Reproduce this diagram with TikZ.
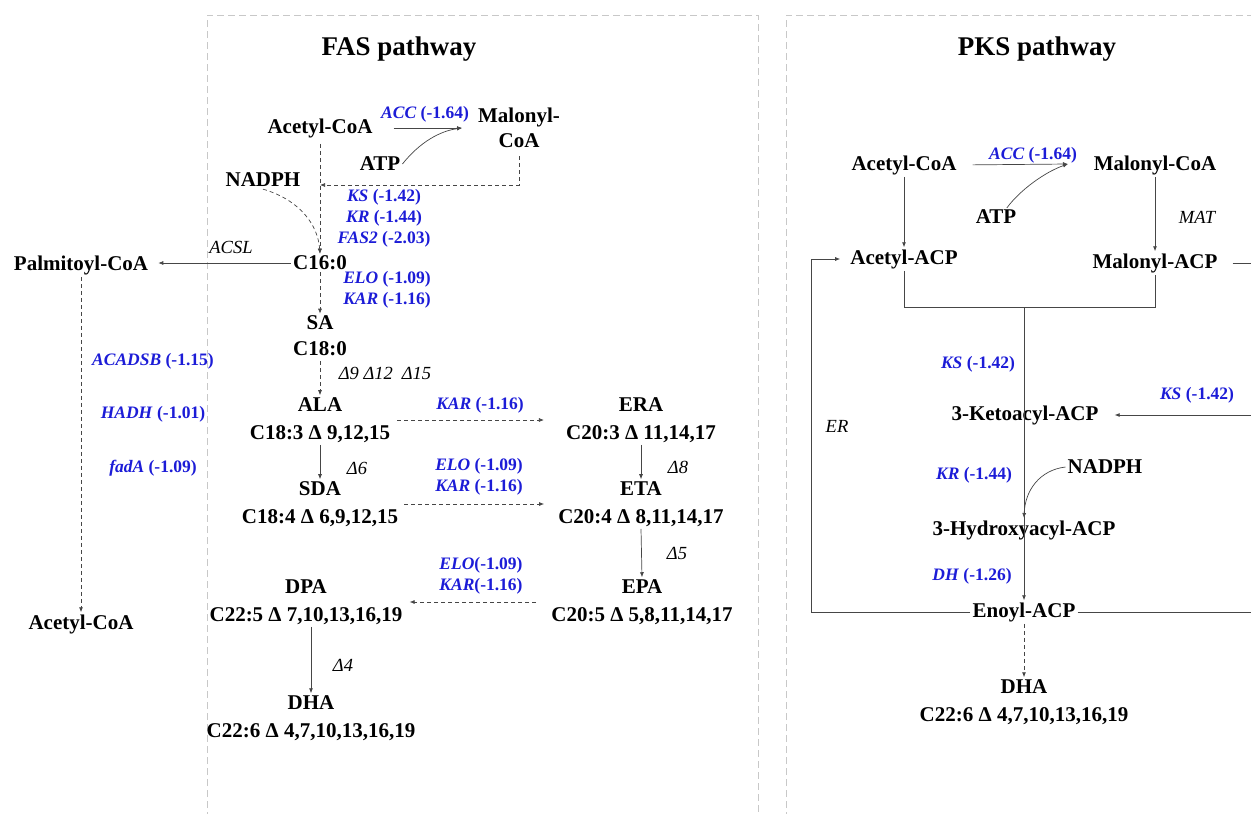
\documentclass[tikz,border=0pt]{standalone}
\usepackage{fontspec}
\setmainfont{Liberation Serif}
\usetikzlibrary{arrows.meta}
\definecolor{geneblue}{RGB}{28,28,215}
\definecolor{boxgrey}{RGB}{200,200,200}
\definecolor{linegrey}{RGB}{70,70,70}
\newcommand{\gene}[2]{\textit{#1} (#2)}
\begin{document}
\begin{tikzpicture}
    [
        x=1pt, y=-1pt,
        cpd/.style={font=\bfseries\fontsize{21}{28}\selectfont, align=center, inner sep=2pt},
        ttl/.style={font=\bfseries\fontsize{27}{30}\selectfont},
        enz/.style={font=\bfseries\fontsize{17.5}{21}\selectfont, text=geneblue, align=center, inner sep=1pt},
        note/.style={font=\itshape\fontsize{18.5}{21}\selectfont, inner sep=1pt},
        flow/.style={draw=linegrey, line width=0.7pt, -{Latex[length=5pt,width=4pt]}},
        dflow/.style={flow, dash pattern=on 4pt off 3pt},
        link/.style={draw=linegrey, line width=0.7pt},
        panel/.style={draw=boxgrey, line width=1pt, dash pattern=on 7pt off 4pt},
    ]
    \useasboundingbox (0,0) rectangle (1251,814);
    \clip (0,0) rectangle (1251,814);

    % panels
    \draw[panel] (207,830) -- (207,15) -- (758,15) -- (758,830);
    \draw[panel] (786,830) -- (786,15) -- (1260,15);
    \node[ttl] (fastitle) at (399,49) {FAS pathway};
    \node[ttl] (pkstitle) at (1037,49) {PKS pathway};

    % FAS pathway
    \node[cpd] (facoa) at (320,128) {Acetyl-CoA};
    \node[cpd] (fmcoa) at (519,128) {Malonyl-\\[-3pt]CoA};
    \node[cpd] (fatp) at (380,164) {ATP};
    \node[cpd] (fnadph) at (263,180) {NADPH};
    \node[enz] (facc) at (425,114) {\gene{ACC}{-1.64}};
    \node[enz] (ffas) at (384,218) {\gene{KS}{-1.42}\\\gene{KR}{-1.44}\\\gene{FAS2}{-2.03}};
    \node[cpd] (c160) at (320,263) {C16:0};
    \node[note] (facsl) at (231,247) {ACSL};
    \node[cpd] (palm) at (81,265) {Palmitoyl-CoA};
    \node[enz] (felo1) at (387,290) {\gene{ELO}{-1.09}\\\gene{KAR}{-1.16}};
    \node[cpd] (sa) at (320,336) {SA\\[-2pt]C18:0};
    \node[note] (fd91215) at (385,373) {Δ9 Δ12\hspace{9pt}Δ15};
    \node[cpd] (ala) at (320,420) {ALA\\C18:3 Δ 9,12,15};
    \node[note] (fd6) at (357,468) {Δ6};
    \node[cpd] (sda) at (320,504) {SDA\\C18:4 Δ 6,9,12,15};
    \node[enz] (fkar) at (480,405) {\gene{KAR}{-1.16}};
    \node[enz] (felo2) at (479,477) {\gene{ELO}{-1.09}\\\gene{KAR}{-1.16}};
    \node[cpd] (era) at (641,420) {ERA\\C20:3 Δ 11,14,17};
    \node[note] (fd8) at (678,467) {Δ8};
    \node[cpd] (eta) at (641,504) {ETA\\C20:4 Δ 8,11,14,17};
    \node[note] (fd5) at (677,553) {Δ5};
    \node[cpd] (epa) at (642,602) {EPA\\C20:5 Δ 5,8,11,14,17};
    \node[enz] (felo3) at (481,576) {\textit{ELO}(-1.09)\\\textit{KAR}(-1.16)};
    \node[cpd] (dpa) at (306,602) {DPA\\C22:5 Δ 7,10,13,16,19};
    \node[note] (fd4) at (343,665) {Δ4};
    \node[cpd] (dha) at (311,718) {DHA\\C22:6 Δ 4,7,10,13,16,19};
    \node[cpd] (lacoa) at (81,624) {Acetyl-CoA};
    \node[enz] (acadsb) at (153,361) {\gene{ACADSB}{-1.15}};
    \node[enz] (hadh) at (153,414) {\gene{HADH}{-1.01}};
    \node[enz] (fada) at (153,468) {\gene{fadA}{-1.09}};

    \coordinate (faccend) at (462,128);
    \coordinate (fjoin) at (320,185);
    \draw[flow, shorten <=19pt] (facoa.east) -- (faccend);
    \draw[flow] (fatp.east) .. controls (420,142) and (440,131) .. (faccend);
    \draw[dflow, shorten <=6pt] (fmcoa.south) |- (fjoin);
    \draw[dflow, shorten <=4pt] (facoa.south) -- (c160.north);
    \draw[dflow] (fnadph.south) .. controls (300,200) and (318,225) .. (c160.north);
    \draw[flow, shorten >=8pt] (c160.west) -- (c160.west -| palm.east);
    \draw[dflow] (c160.south) -- (sa.north);
    \draw[dflow, shorten <=3pt] (sa.south) -- (ala.north);
    \draw[flow] (ala.south) -- (sda.north);
    \draw[dflow, shorten <=5pt, shorten >=20pt] (ala.east) -- (era.west);
    \draw[dflow, shorten <=4pt, shorten >=12pt] (sda.east) -- (eta.west);
    \draw[flow] (era.south) -- (eta.north);
    \draw[flow] (eta.south) -- (epa.north);
    \draw[dflow, shorten <=13pt, shorten >=5pt] (epa.west) -- (dpa.east);
    \draw[flow] (dpa.south -| dha.north) -- (dha.north);
    \draw[dflow] (palm.south) -- (lacoa.north);

    % PKS pathway
    \node[cpd] (pacoa) at (904,165) {Acetyl-CoA};
    \node[cpd] (pmcoa) at (1155,165) {Malonyl-CoA};
    \node[enz] (pacc) at (1033,155) {\gene{ACC}{-1.64}};
    \node[cpd] (patp) at (996,217) {ATP};
    \node[note] (pmat) at (1197,217) {MAT};
    \node[cpd] (paacp) at (904,259) {Acetyl-ACP};
    \node[cpd] (pmacp) at (1155,263) {Malonyl-ACP};
    \node[enz] (pks1) at (978,364) {\gene{KS}{-1.42}};
    \node[enz] (pks2) at (1197,395) {\gene{KS}{-1.42}};
    \node[cpd] (pketo) at (1025,415) {3-Ketoacyl-ACP};
    \node[note] (per) at (837,426) {ER};
    \node[enz] (pkr) at (974,475) {\gene{KR}{-1.44}};
    \node[cpd] (pnadph) at (1105,467) {NADPH};
    \node[cpd] (phyd) at (1024,530) {3-Hydroxyacyl-ACP};
    \node[enz] (pdh) at (972,576) {\gene{DH}{-1.26}};
    \node[cpd] (penoyl) at (1024,612) {Enoyl-ACP};
    \node[cpd] (pdha) at (1024,702) {DHA\\C22:6 Δ 4,7,10,13,16,19};

    \coordinate (paccend) at (1068,164);
    \coordinate (pjoin) at (1024,307);
    \coordinate (pnadend) at (1024,518);
    \coordinate (pedge) at (1252,0);
    \coordinate (ploop) at (811,0);
    \draw[flow, shorten <=14pt] (pacoa.east) -- (paccend);
    \draw[flow] (patp.40) .. controls (1020,190) and (1045,172) .. (paccend);
    \draw[flow] (pacoa.south) -- (paacp.north);
    \draw[flow] (pmcoa.south) -- (pmacp.north);
    \draw[link] (paacp.south) -- (paacp.south |- pjoin) -- (pmacp.south |- pjoin) -- (pmacp.south);
    \draw[flow] (pjoin) -- (penoyl.north);
    \draw[flow] (pnadph.west) .. controls (1040,470) and (1025,490) .. (pnadend);
    \draw[link, shorten <=13pt] (pmacp.east) -- (pmacp.east -| pedge);
    \draw[flow, shorten >=14pt] (pketo.east -| pedge) -- (pketo.east);
    \draw[link] (penoyl.east) -- (penoyl.east -| pedge);
    \draw[flow, shorten >=8pt] (penoyl.west) -- (penoyl.west -| ploop) -- (paacp.west -| ploop) -- (paacp.west);
    \draw[dflow] (penoyl.south) -- (pdha.north);
\end{tikzpicture}
\end{document}
